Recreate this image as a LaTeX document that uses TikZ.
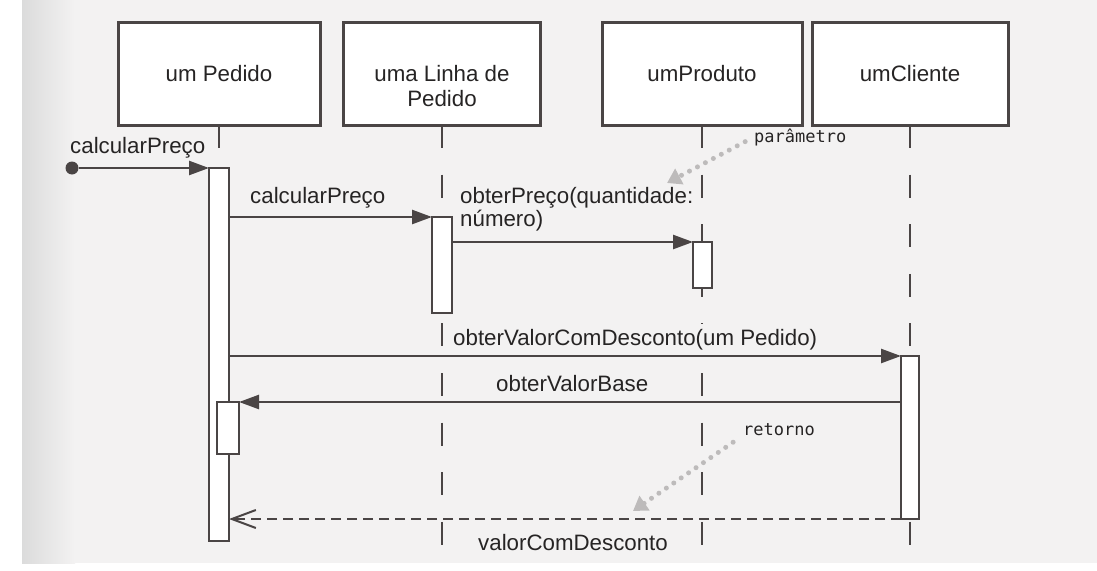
\documentclass[tikz,border=0pt]{standalone}
\usepackage{fontspec}
\setmainfont{Liberation Sans}
\newfontfamily\notafont{DejaVu Sans Mono}
\usetikzlibrary{arrows.meta}
\definecolor{traco}{HTML}{4A4545}
\definecolor{texto}{HTML}{262424}
\definecolor{nota}{HTML}{BDBBBB}
\definecolor{papel}{HTML}{F3F2F2}

\begin{document}
\begin{tikzpicture}[x=1pt, y=-1pt, >={Triangle[length=20pt,width=14pt]},
  every node/.style={text=texto, font=\fontsize{22.3}{25}\selectfont},
  objeto/.style={draw=traco, line width=3pt, fill=white, minimum width=#1, minimum height=103pt,
    text height=16pt, text depth=1pt, inner sep=0pt, outer sep=0pt},
  objeto/.default=198pt,
  ativa/.style={draw=traco, line width=2.5pt, fill=white, minimum width=20pt, inner sep=0pt, outer sep=0pt, anchor=north},
  linhavida/.style={draw=traco, line width=2.5pt, dash pattern=on 23pt off 26.6pt},
  msg/.style={draw=traco, line width=2.5pt, ->},
  resposta/.style={draw=traco, line width=2pt, dash pattern=on 10pt off 6pt, -{Straight Barb[length=24pt,width=18pt]}},
  rotulo/.style={anchor=base west, inner sep=0pt},
  anotacao/.style={anchor=base west, inner sep=0pt, font=\notafont\fontsize{17}{18}\selectfont},
  apontador/.style={draw=nota, line width=5pt, line cap=round, dash pattern=on 0pt off 9pt, -{Triangle[length=14pt,width=17pt]}},
  inicio/.style={circle, fill=traco, minimum size=13pt, inner sep=0pt}]

\useasboundingbox (0,0) rectangle (1097,570);
\fill [white] (0,0) rectangle (1097,570);
\fill [papel] (22,0) rectangle (1097,563);
\shade [left color=black!14, right color=papel] (22,0) rectangle (75,563);


\node [objeto=202pt] (pedido) at (219,73.5) {um Pedido};
\node [objeto=197pt] (linha) at (442,73.5) {\begin{tabular}[t]{@{}c@{}}uma Linha de\\Pedido\end{tabular}};
\node [objeto=200pt] (produto) at (702,73.5) {umProduto};
\node [objeto=196pt] (cliente) at (910,73.5) {umCliente};

\foreach \obj/\fim in {pedido/538,linha/545,produto/545,cliente/545}
  \draw [linhavida] (\obj.south) -- (\obj.south |- 0,\fim);

\node [ativa, minimum height=373pt] (ativPedido) at (219,168) {};
\node [ativa, minimum height=96pt] (ativLinha) at (442,217) {};
\node [ativa, minimum height=46pt, minimum width=19pt] (ativProduto) at (702.5,242) {};
\node [ativa, minimum height=163pt, minimum width=18pt] (ativCliente) at (910,356) {};
\node [ativa, minimum height=52pt, minimum width=22pt] (ativAninhada) at (228,402) {};


\node [inicio] (origem) at (72,168) {};
\draw [msg] (origem) -- (ativPedido.north west);
\node [rotulo] (lblEntrada) at (70,153) {calcularPreço};

\draw [msg] (ativPedido.east |- ativLinha.north) -- (ativLinha.north west);
\node [rotulo] (lblCalcular) at (250,203) {calcularPreço};

\draw [msg] (ativLinha.east |- ativProduto.north) -- (ativProduto.north west);
\node [rotulo, font=\fontsize{22.3}{22}\selectfont] (lblPreco) at (460,203) {\begin{tabular}[t]{@{}l@{}}obterPreço(quantidade:\\número)\end{tabular}};

\node [rotulo, fill=papel, inner ysep=5pt] (lblDesconto) at (453,345) {obterValorComDesconto(um Pedido)};
\draw [msg] (ativPedido.east |- ativCliente.north) -- (ativCliente.north west);

\draw [msg] (ativCliente.west |- ativAninhada.north) -- (ativAninhada.north east);
\node [rotulo] (lblBase) at (496,391) {obterValorBase};

\draw [resposta] (ativCliente.south west) -- (ativPedido.east |- ativCliente.south);
\node [rotulo] (lblValor) at (478,550) {valorComDesconto};


\node [anotacao] (notaParam) at (754,142) {parâmetro};
\coordinate (alvoParam) at (667,183);
\draw [apontador, shorten <=10pt] (notaParam.west) -- (alvoParam);

\node [anotacao] (notaRetorno) at (743,435) {retorno};
\coordinate (alvoRetorno) at (633,511);
\draw [apontador, shorten <=12pt] (notaRetorno.south west) -- (alvoRetorno);

\end{tikzpicture}
\end{document}
